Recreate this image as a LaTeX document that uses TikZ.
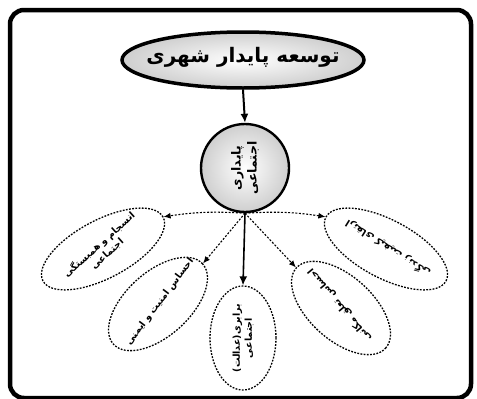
\documentclass[tikz,border=0pt]{standalone}
\usepackage{fontspec}
\usetikzlibrary{shapes.geometric,arrows.meta}
\newfontfamily\arabicfont[Script=Arabic]{DejaVu Sans}
\TeXXeTstate=1
\tikzset{
  frame/.style={line width=4.5pt, rounded corners=14pt},
  topell/.style={ellipse, draw, line width=3.5pt, minimum width=242pt, minimum height=56pt, inner sep=0pt,
     shading=radial, inner color=white, outer color=gray!38},
  hub/.style={circle, draw, line width=2.4pt, minimum size=88pt, inner sep=0pt,
     shading=radial, inner color=white, outer color=gray!38},
  sub/.style={ellipse, draw, line width=1.3pt, dash pattern=on 1.8pt off 1.4pt, inner sep=0pt},
  dotarr/.style={line width=1.1pt, dash pattern=on 2pt off 1.6pt, -{Latex[length=7pt,width=6pt]}},
  solarr/.style={line width=2pt, -{Latex[length=9pt,width=8pt]}},
  bigtxt/.style={font=\arabicfont\bfseries\fontsize{20}{24}\selectfont},
  hubtxt/.style={font=\arabicfont\bfseries\fontsize{12.5}{16}\selectfont, align=center},
  subtxt/.style={font=\arabicfont\bfseries\fontsize{9.5}{12}\selectfont, align=center},
}
\begin{document}
\begin{tikzpicture}[x=1pt,y=-1pt]
\useasboundingbox (0,0) rectangle (477,399);
\draw[frame] (10,10) rectangle (471,398);

\node[topell] (top) at (243,60) {};
\node[bigtxt] (toptxt) at (243,57) {\beginR توسعه پایدار شهری\endR};

\node[hub] (hub) at (245,168) {};
\node[hubtxt, rotate=90] (hubtxt) at (245,168) {\beginR پایداری\endR\\\beginR اجتماعی\endR};

\node[sub, minimum width=136pt, minimum height=58pt, rotate=28] (e1) at (103,249) {};
\node[sub, minimum width=120pt, minimum height=64pt, rotate=42] (e2) at (158,304) {};
\node[sub, minimum width=66pt, minimum height=104pt] (e3) at (243,338) {};
\node[sub, minimum width=120pt, minimum height=64pt, rotate=-42] (e4) at (341,308) {};
\node[sub, minimum width=136pt, minimum height=58pt, rotate=-28] (e5) at (386,249) {};

\node[subtxt, rotate=42] (t1) at (103,249) {\beginR انسجام و همبستگی\endR\\\beginR اجتماعی\endR};
\node[subtxt, rotate=53] (t2) at (160,302) {\beginR احساس امنیت و ایمنی\endR};
\node[subtxt, rotate=90] (t3) at (243,338) {\beginR برابری(عدالت)\endR\\\beginR اجتماعی\endR};
\node[subtxt, rotate=130] (t4) at (340,305) {\beginR احساس تعلق مکانی\endR};
\node[subtxt, rotate=148] (t5) at (388,248) {\beginR ارتقای کیفیت زندگی\endR};

\draw[solarr] (top.south) -- (hub.north);
\draw[dotarr] (hub.south) to[bend right=6] (e1.east);
\draw[dotarr] (hub.south) -- (e2.east);
\draw[solarr, line width=1.6pt] (hub.south) -- (e3.north);
\draw[dotarr] (hub.south) -- (e4.west);
\draw[dotarr] (hub.south) to[bend left=6] (e5.west);
\end{tikzpicture}
\end{document}
